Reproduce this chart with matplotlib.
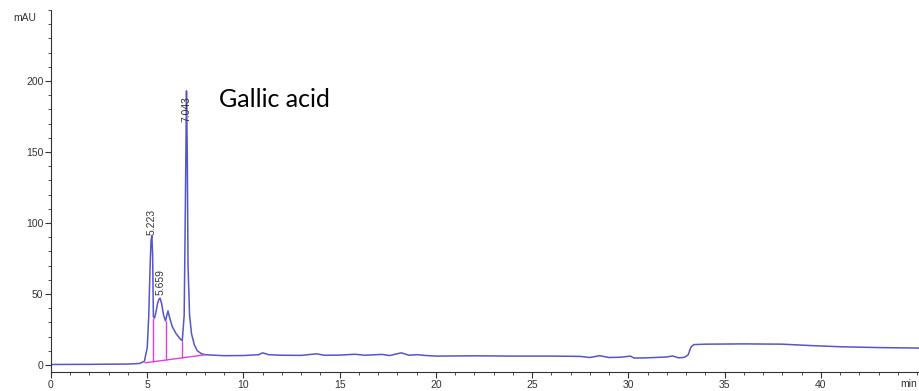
import matplotlib.pyplot as plt
import numpy as np

# Chromatogram trace (time in min, signal in mAU)
time = [0, 2, 4, 4.6, 4.85, 5.0, 5.08, 5.15, 5.2, 5.24, 5.28, 5.32, 5.38, 5.45,
        5.55, 5.62, 5.67, 5.75, 5.85, 5.95, 6.02, 6.08, 6.15, 6.3, 6.5, 6.7, 6.82,
        6.92, 6.98, 7.04, 7.08, 7.12, 7.2, 7.3, 7.45, 7.6, 7.8, 8.0,
        8.5, 9, 10, 10.8, 11.0, 11.3, 12, 13, 13.8, 14.2, 15, 15.8, 16.3, 17.2,
        17.6, 18.2, 18.6, 19, 19.5, 20, 22, 24, 26, 27.5, 28, 28.5, 29, 29.6,
        30.1, 30.3, 31, 32, 32.3, 32.6, 32.9, 33.1, 33.25, 33.4, 34, 36, 38,
        39.5, 41, 43, 45.5]
signal = [0.3, 0.4, 0.6, 1.0, 2.5, 12, 35, 70, 88, 91, 78, 34, 33, 37,
          44, 46.5, 47, 43, 35, 31, 35, 38, 34, 27, 22, 18.5, 17,
          35, 110, 193, 150, 70, 35, 22, 14, 10, 8, 7.2,
          6.8, 6.5, 6.6, 7.2, 8.5, 7.2, 6.8, 6.7, 7.8, 6.8, 6.9, 7.5, 6.8, 7.4,
          6.6, 8.5, 6.8, 7.2, 6.6, 6.2, 6.4, 6.2, 6.2, 6.0, 5.2, 6.5, 5.2, 5.4,
          6.2, 4.8, 5.0, 5.6, 6.3, 5.0, 5.3, 7.0, 12.5, 14.3, 14.6, 14.8, 14.6,
          13.6, 12.8, 12.2, 11.8]

# integration baseline and drop lines
base_t = [4.9, 7.95]
base_v = [1.5, 7.0]
drop_t = [5.32, 5.95, 6.82]
drop_top = [33, 31, 17]

# peak labels
peak_rt = ['5.223', '5.659', '7.043']
peak_x = [5.22, 5.7, 7.04]
peak_y = [91.5, 49, 171]

fig = plt.figure(figsize=(9.19, 3.91), dpi=100)
ax = fig.add_axes([51/919, 19/391, 1 - 51/919, 362/391])

ax.plot(time, signal, color='#5555cc', lw=1.1)
ax.plot(base_t, base_v, color='#e040e0', lw=1)
drop_bot = np.interp(drop_t, base_t, base_v)
ax.vlines(drop_t, drop_bot, drop_top, color='#e040e0', lw=1)

for lab, x, y in zip(peak_rt, peak_x, peak_y):
    ax.text(x, y, lab, rotation=90, ha='center', va='bottom', fontsize=7.5,
            color='#333333', family='Liberation Sans')

ax.text(8.75, 195, 'Gallic acid', fontsize=18, va='top', ha='left',
        family='Lato', color='black')

ax.set_xlim(0, 45.1)
ax.set_ylim(-5, 250)
ax.set_xticks(np.arange(0, 45, 5))
ax.set_xticks(np.arange(0, 46, 1), minor=True)
ax.set_yticks(np.arange(0, 201, 50))
ax.set_yticks(np.arange(0, 251, 10), minor=True)
for spine in ['top', 'right']:
    ax.spines[spine].set_visible(False)
ax.spines['left'].set_color('#333333')
ax.spines['bottom'].set_color('#333333')
ax.tick_params(which='both', direction='out', colors='#333333', labelsize=7.5)
ax.tick_params(which='major', length=4, pad=1.5)
ax.tick_params(which='minor', length=2.5)
for lab in ax.get_xticklabels() + ax.get_yticklabels():
    lab.set_family('Liberation Sans')

fig.text(25/919, 1 - 18/391, 'mAU', ha='center', va='center', fontsize=7.5,
         family='Liberation Sans', color='#333333')
fig.text(917/919, 2/391, 'min', ha='right', va='bottom', fontsize=7.5,
         family='Liberation Sans', color='#333333')

fig.savefig('out.png', dpi=100)
